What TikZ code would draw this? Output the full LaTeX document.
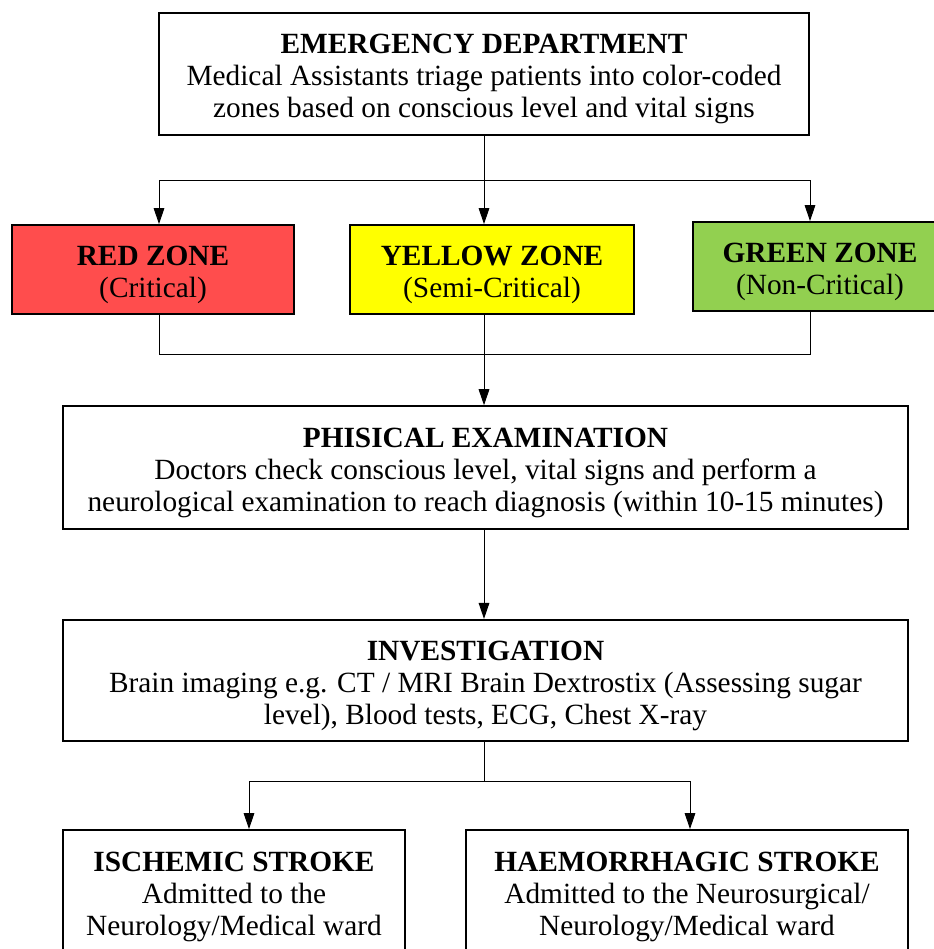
\documentclass[tikz,border=0pt]{standalone}
\usepackage{fontspec}
\setmainfont{Liberation Serif}
\usetikzlibrary{arrows.meta}
\definecolor{zonered}{RGB}{255,77,77}
\definecolor{zoneyellow}{RGB}{255,255,0}
\definecolor{zonegreen}{RGB}{146,208,80}
\newcommand{\boxtitle}[1]{\rule{0pt}{22.5pt}\textbf{#1}}
\begin{document}
\begin{tikzpicture}[x=0.75pt,y=0.75pt,yscale=-1,xscale=1,
  box/.style={draw, line width=1.4pt, rectangle, align=center, inner sep=0pt,
    font=\fontsize{22}{24}\selectfont},
  link/.style={line width=0.75pt},
  arr/.style={link, -{Triangle[length=12pt,width=8pt]}}]
%set diagram left start at 0, and has height of 949
\clip (0,0) rectangle (934,949);

%Shape: Rectangle [emergency department]
\node[box, minimum width=488pt, minimum height=91.5pt] (ed) at (484,74)
  {\boxtitle{EMERGENCY DEPARTMENT}\\Medical Assistants triage patients into color-coded\\zones based on conscious level and vital signs};
%Shape: Rectangle [zones]
\node[box, fill=zonered, minimum width=211.5pt, minimum height=66.75pt] (red) at (153,269.5)
  {\boxtitle{RED ZONE}\\(Critical)};
\node[box, fill=zoneyellow, minimum width=213pt, minimum height=66.75pt] (yellow) at (492,269.5)
  {\boxtitle{YELLOW ZONE}\\(Semi-Critical)};
\node[box, fill=zonegreen, minimum width=190.5pt, minimum height=66.75pt] (green) at (820,266.5)
  {\boxtitle{GREEN ZONE}\\(Non-Critical)};
%Shape: Rectangle [physical examination]
\node[box, minimum width=634pt, minimum height=92pt] (phys) at (485.5,467.5)
  {\boxtitle{PHISICAL EXAMINATION}\\Doctors check conscious level, vital signs and perform a\\neurological examination to reach diagnosis (within 10-15 minutes)};
%Shape: Rectangle [investigation]
\node[box, minimum width=634pt, minimum height=91pt] (inv) at (485.5,680.5)
  {\boxtitle{INVESTIGATION}\\Brain imaging e.g. CT / MRI Brain Dextrostix (Assessing sugar\\level), Blood tests, ECG, Chest X-ray};
%Shape: Rectangle [strokes]
\node[box, minimum width=256.5pt, minimum height=93pt] (isch) at (234,892)
  {\boxtitle{ISCHEMIC STROKE}\\Admitted to the\\Neurology/Medical ward};
\node[box, minimum width=331.5pt, minimum height=93pt] (haem) at (687,892)
  {\boxtitle{HAEMORRHAGIC STROKE}\\Admitted to the Neurosurgical/\\Neurology/Medical ward};

%Straight Lines [split into zones]
\coordinate (splitl) at (159,180);
\coordinate (splitr) at (810,180);
\draw[link] (ed.south) -- (ed.south |- splitl);
\draw[link] (splitl) -- (splitr);
\draw[arr] (splitl) -- (splitl |- red.north);
\draw[arr] (ed.south |- splitl) -- (ed.south |- yellow.north);
\draw[arr] (splitr) -- (splitr |- green.north);
%Straight Lines [merge zones]
\coordinate (mergel) at (159,354);
\coordinate (merger) at (810,354);
\draw[link] (mergel |- red.south) -- (mergel) -- (merger) -- (merger |- green.south);
\draw[arr] (ed.south |- yellow.south) -- (ed.south |- phys.north);
%Straight Lines [examination to investigation]
\draw[arr] (ed.south |- phys.south) -- (ed.south |- inv.north);
%Straight Lines [split into strokes]
\coordinate (strokel) at (249,781);
\coordinate (stroker) at (690,781);
\draw[link] (ed.south |- inv.south) -- (ed.south |- strokel);
\draw[link] (strokel) -- (stroker);
\draw[arr] (strokel) -- (strokel |- isch.north);
\draw[arr] (stroker) -- (stroker |- haem.north);
\end{tikzpicture}
\end{document}
